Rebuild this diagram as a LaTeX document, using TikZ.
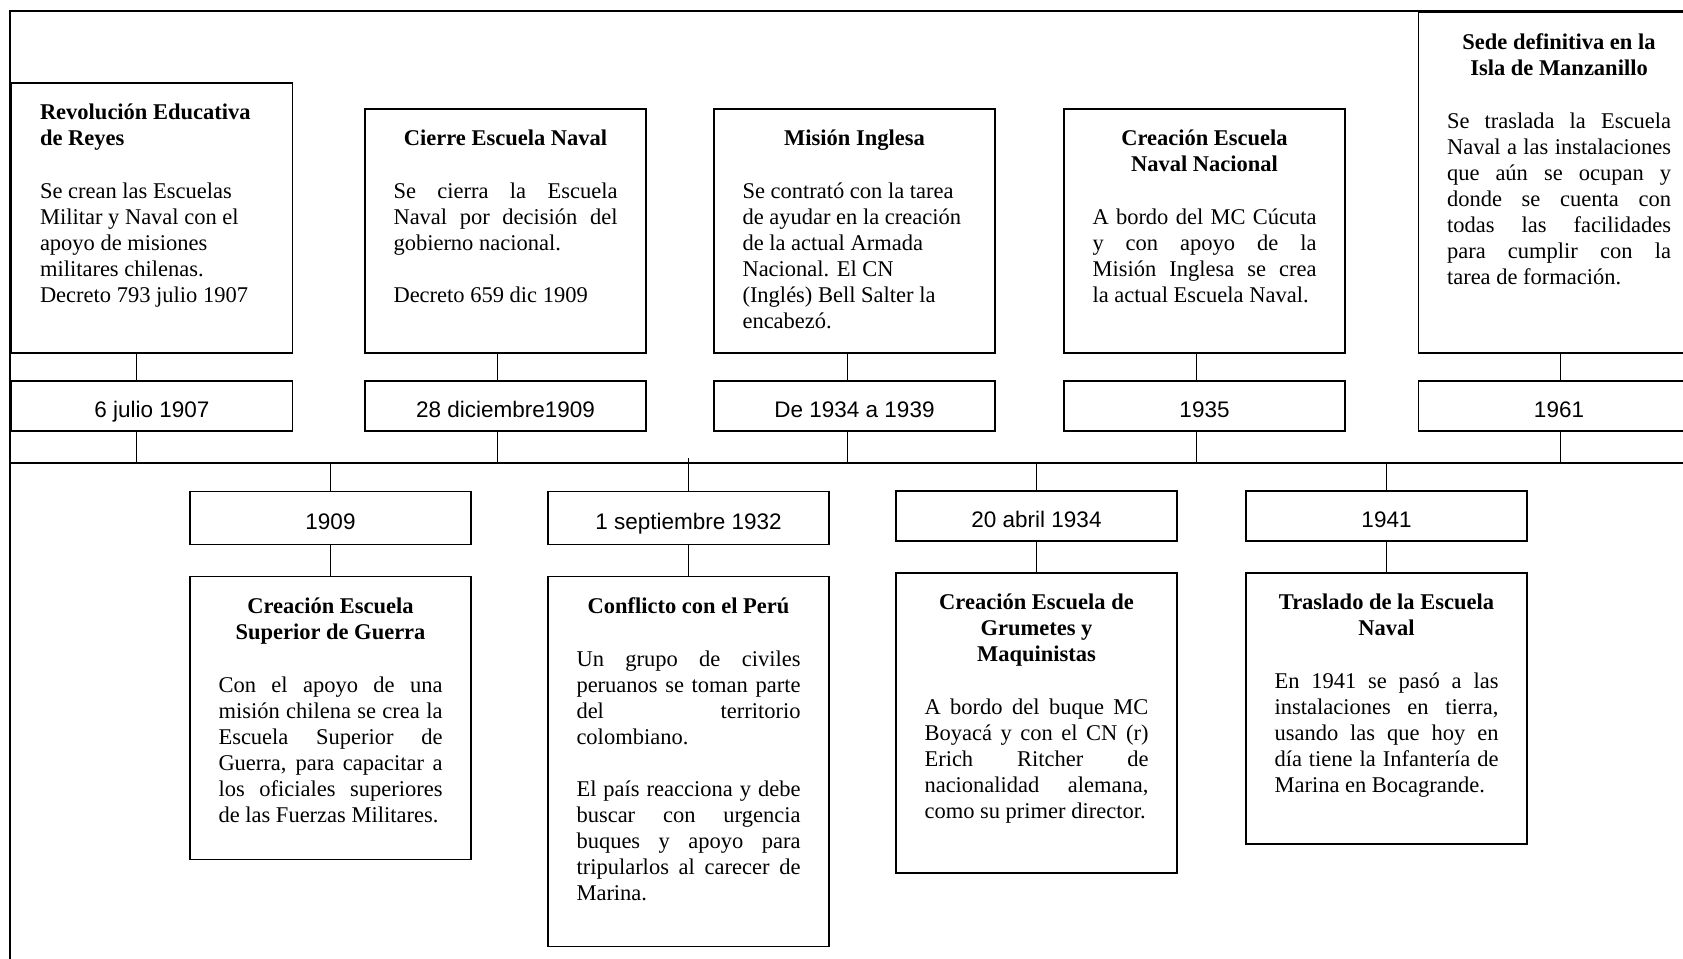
\documentclass[tikz,border=0pt]{standalone}
\usepackage{fontspec}
\setmainfont{Liberation Serif}
\newfontfamily\datefont{Liberation Sans}
\usetikzlibrary{positioning,calc}

\newcommand{\evfont}{\fontsize{22.5pt}{26pt}\selectfont}
\newcommand{\evbody}[2]{\parbox[c][#1][t]{224pt}{\evfont #2}}
\newcommand{\evtitle}[1]{{\centering\bfseries\rule{0pt}{36.5pt}#1\par}\vspace{27pt}}
\newcommand{\evtitlel}[1]{{\raggedright\bfseries\rule{0pt}{36.5pt}#1\par}\vspace{27pt}}
\newcommand{\jl}[1]{\makebox[\linewidth][s]{#1}\\}

\begin{document}
\begin{tikzpicture}[x=1pt, y=-1pt,
    evbox/.style={draw, line width=1.3pt, inner xsep=28.5pt, inner ysep=0pt, outer sep=0pt, anchor=north west},
    datebox/.style={draw, line width=1.3pt, minimum width=281pt, minimum height=50pt, inner sep=0pt, outer sep=0pt, text height=22.6pt, text depth=0pt, font=\datefont\fontsize{22.5pt}{26pt}\selectfont},
    frame/.style={line width=2.2pt},
    tline/.style={line width=1.8pt},
    conn/.style={line width=1pt},
]
\useasboundingbox (0,0) rectangle (1683,958);
\clip (0,0) rectangle (1683,958);
% Upper row
\node[evbox] (reyes) at (11.5,83) {\evbody{270pt}{\evtitlel{Revolución Educativa\\de Reyes}
  Se crean las Escuelas\\Militar y Naval con el\\apoyo de misiones\\militares chilenas.\\Decreto 793 julio 1907}};
\node[evbox] (cierre) at (365,109) {\evbody{244pt}{\evtitle{Cierre Escuela Naval}
  \jl{Se cierra la Escuela}\jl{Naval por decisión del}gobierno nacional.\par\vspace{26pt}Decreto 659 dic 1909}};
\node[evbox] (mision) at (714,109) {\evbody{244pt}{\evtitle{Misión Inglesa}
  Se contrató con la tarea\\de ayudar en la creación\\de la actual Armada\\Nacional. El CN\\(Inglés) Bell Salter la\\encabezó.}};
\node[evbox] (nacional) at (1064,109) {\evbody{244pt}{\evtitle{Creación Escuela\\Naval Nacional}
  \jl{A bordo del MC Cúcuta}\jl{y con apoyo de la}\jl{Misión Inglesa se crea}la actual Escuela Naval.}};
\node[evbox] (sede) at (1418.5,12.5) {\evbody{340.5pt}{\evtitle{Sede definitiva en la\\Isla de Manzanillo}
  \jl{Se traslada la Escuela}\jl{Naval a las instalaciones}\jl{que aún se ocupan y}\jl{donde se cuenta con}\jl{todas las facilidades}\jl{para cumplir con la}tarea de formación.}};
\node[datebox, below=28pt of reyes]    (reyesdate)    {6 julio 1907};
\node[datebox, below=28pt of cierre]   (cierredate)   {28 diciembre1909};
\node[datebox, below=28pt of mision]   (misiondate)   {De 1934 a 1939};
\node[datebox, below=28pt of nacional] (nacionaldate) {1935};
\node[datebox, below=28pt of sede]     (sededate)     {1961};
% Lower row
\node[datebox, anchor=north west, minimum height=53pt] (guerradate)   at (190,491.5) {1909};
\node[datebox, anchor=north west, minimum height=53pt] (perudate)     at (548,491.5) {1 septiembre 1932};
\node[datebox, anchor=north west]                      (grumetesdate) at (896,491)   {20 abril 1934};
\node[datebox, anchor=north west]                      (trasladodate) at (1246,491)  {1941};
\node[evbox, below=32pt of guerradate] (guerra) {\evbody{283pt}{\evtitle{Creación Escuela\\Superior de Guerra}
  \jl{Con el apoyo de una}\jl{misión chilena se crea la}\jl{Escuela Superior de}\jl{Guerra, para capacitar a}\jl{los oficiales superiores}de las Fuerzas Militares.}};
\node[evbox, below=32pt of perudate] (peru) {\evbody{370pt}{\evtitle{Conflicto con el Perú}
  \jl{Un grupo de civiles}\jl{peruanos se toman parte}\jl{del territorio}colombiano.\par\vspace{26pt}
  \jl{El país reacciona y debe}\jl{buscar con urgencia}\jl{buques y apoyo para}\jl{tripularlos al carecer de}Marina.}};
\node[evbox, below=32pt of grumetesdate] (grumetes) {\evbody{300pt}{\evtitle{Creación Escuela de\\Grumetes y\\Maquinistas}
  \jl{A bordo del buque MC}\jl{Boyacá y con el CN (r)}\jl{Erich Ritcher de}\jl{nacionalidad alemana,}como su primer director.}};
\node[evbox, below=32pt of trasladodate] (traslado) {\evbody{271pt}{\evtitle{Traslado de la Escuela\\Naval}
  \jl{En 1941 se pasó a las}\jl{instalaciones en tierra,}\jl{usando las que hoy en}\jl{día tiene la Infantería de}Marina en Bocagrande.}};
% Frame and time line
\coordinate (tl) at (10,463);
\draw[frame] (10,975) -- (10,11) -- (1700,11);
\draw[tline] (tl) -- (1700,463);
% Connections, upper row
\draw[conn] ([xshift=-15.5pt]reyes.south) -- ([xshift=-15.5pt]reyesdate.north);
\draw[conn] ([xshift=-15.5pt]reyesdate.south) -- ($(reyesdate.south |- tl)+(-15.5,0)$);
\draw[conn] ([xshift=-8.5pt]cierre.south) -- ([xshift=-8.5pt]cierredate.north);
\draw[conn] ([xshift=-8.5pt]cierredate.south) -- ($(cierredate.south |- tl)+(-8.5,0)$);
\draw[conn] ([xshift=-7.5pt]mision.south) -- ([xshift=-7.5pt]misiondate.north);
\draw[conn] ([xshift=-7.5pt]misiondate.south) -- ($(misiondate.south |- tl)+(-7.5,0)$);
\draw[conn] ([xshift=-8.5pt]nacional.south) -- ([xshift=-8.5pt]nacionaldate.north);
\draw[conn] ([xshift=-8.5pt]nacionaldate.south) -- ($(nacionaldate.south |- tl)+(-8.5,0)$);
\draw[conn] ([xshift=1pt]sede.south) -- ([xshift=1pt]sededate.north);
\draw[conn] ([xshift=1pt]sededate.south) -- ($(sededate.south |- tl)+(1,0)$);
% Connections, lower row
\draw[conn] (guerradate.north |- tl) -- (guerradate.north);
\draw[conn] (guerradate) -- (guerra);
\draw[conn] ($(perudate.north |- tl)+(0,-5)$) -- (perudate.north);
\draw[conn] (perudate) -- (peru);
\draw[conn] (grumetesdate.north |- tl) -- (grumetesdate.north);
\draw[conn] (grumetesdate) -- (grumetes);
\draw[conn] (trasladodate.north |- tl) -- (trasladodate.north);
\draw[conn] (trasladodate) -- (traslado);
\end{tikzpicture}
\end{document}
